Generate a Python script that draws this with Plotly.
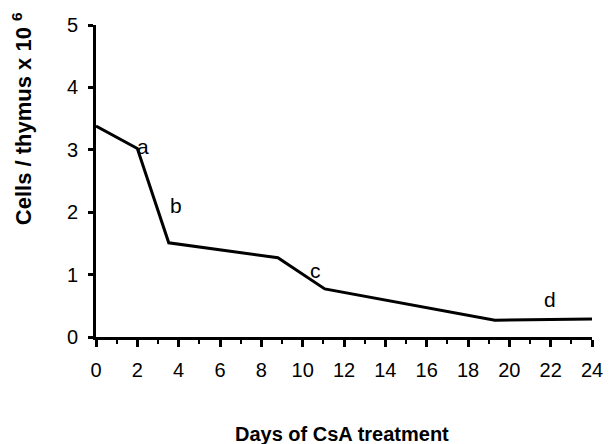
import plotly.graph_objects as go

# Data
days = [0, 2.0, 3.52, 8.8, 11.07, 19.3, 24.0]
cells = [3.38, 3.02, 1.51, 1.27, 0.77, 0.27, 0.29]

label_text = ["a", "b", "c", "d"]
label_x = [2.29, 3.86, 10.62, 21.95]
label_y = [3.06, 2.10, 1.06, 0.60]

x_ticks = list(range(0, 25, 2))
y_ticks = [0, 1, 2, 3, 4, 5]

FONT = "Liberation Sans, Arial, Helvetica, sans-serif"

fig = go.Figure()
fig.add_trace(go.Scatter(x=days, y=cells, mode="lines",
                         line=dict(color="black", width=3),
                         hoverinfo="skip", showlegend=False))

for t, x, y in zip(label_text, label_x, label_y):
    fig.add_annotation(x=x, y=y, text=t, showarrow=False,
                       font=dict(family=FONT, size=21, color="black"),
                       xanchor="center", yanchor="middle")

fig.add_annotation(xref="paper", yref="paper", x=0.496, y=-0.311,
                   text="<b>Days of CsA treatment</b>", showarrow=False,
                   font=dict(family=FONT, size=20, color="black"),
                   xanchor="center", yanchor="middle")

fig.add_annotation(xref="paper", yref="paper", x=-0.150, y=0.70,
                   text="<b>Cells / thymus x 10 <sup>6</sup></b>", showarrow=False,
                   textangle=-90,
                   font=dict(family=FONT, size=22, color="black"),
                   xanchor="center", yanchor="middle")

fig.update_layout(
    width=615, height=444,
    margin=dict(l=96, r=14, t=25, b=107),
    plot_bgcolor="white", paper_bgcolor="white",
    font=dict(family=FONT, color="black"),
    xaxis=dict(range=[0, 24], tickmode="array", tickvals=x_ticks,
               ticktext=[str(v) for v in x_ticks],
               showline=True, linecolor="black", linewidth=3,
               ticks="outside", ticklen=7, tickwidth=2.5, tickcolor="black",
               minor=dict(dtick=1, ticks="outside", ticklen=4, tickwidth=2, tickcolor="black"),
               showgrid=False, zeroline=False, fixedrange=True,
               tickfont=dict(family=FONT, size=20, color="black"),
               ticklabelstandoff=6),
    yaxis=dict(range=[0, 5], tickmode="array", tickvals=y_ticks,
               ticktext=[str(v) for v in y_ticks],
               showline=True, linecolor="black", linewidth=3,
               ticks="outside", ticklen=5, tickwidth=2.5, tickcolor="black",
               showgrid=False, zeroline=False, fixedrange=True,
               tickfont=dict(family=FONT, size=20, color="black"),
               ticklabelstandoff=6),
)

fig.write_html("out.html", config={"displayModeBar": False})
